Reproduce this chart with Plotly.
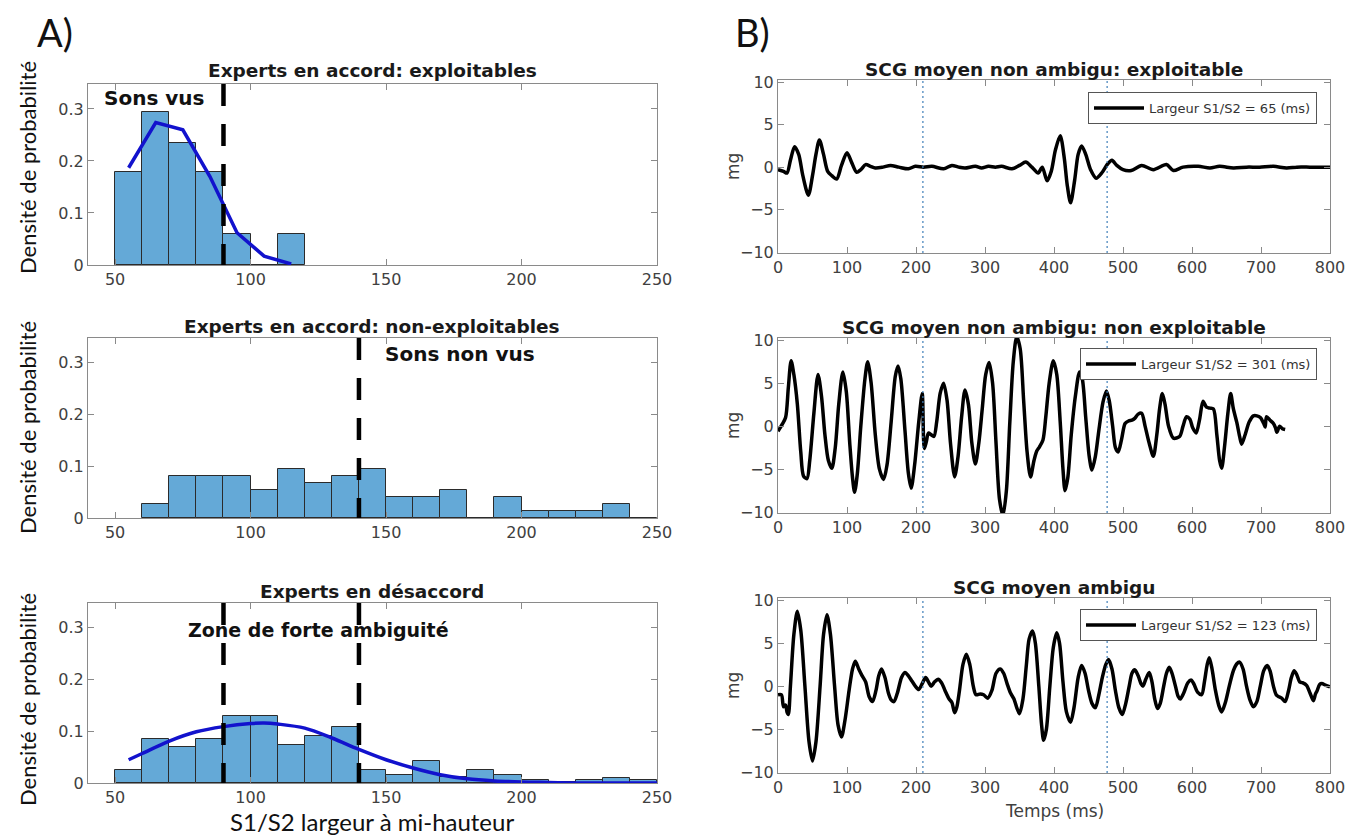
import numpy as np
import plotly.graph_objects as go

W, H = 1357, 837

# ---------------- Data: histograms (bin left edges, width 10) ----------------
bin_width = 10
bins_exploit = [50, 60, 70, 80, 90, 100, 110]
dens_exploit = [0.178, 0.295, 0.235, 0.178, 0.059, 0.0, 0.059]
fit_exploit_x = [55, 65, 75, 85, 95, 105, 115]
fit_exploit_y = [0.187, 0.274, 0.260, 0.170, 0.062, 0.017, 0.002]

bins_nonexploit = [60, 70, 80, 90, 100, 110, 120, 130, 140, 150, 160, 170, 180, 190, 200, 210, 220, 230, 240]
dens_nonexploit = [0.027, 0.081, 0.081, 0.081, 0.054, 0.095, 0.068, 0.081, 0.095, 0.041,
                   0.041, 0.054, 0.0, 0.041, 0.014, 0.014, 0.014, 0.027, 0.0]

bins_ambig = [50, 60, 70, 80, 90, 100, 110, 120, 130, 140, 150, 160, 170, 180, 190, 200, 210, 220, 230, 240]
dens_ambig = [0.026, 0.086, 0.070, 0.086, 0.129, 0.129, 0.074, 0.090, 0.108, 0.026,
              0.015, 0.043, 0.012, 0.026, 0.015, 0.005, 0.002, 0.005, 0.010, 0.005]
fit_ambig_x = [55, 60, 70, 80, 90, 100, 105, 110, 120, 130, 140, 150, 160, 170, 180, 190, 200, 210, 220, 230, 240, 250]
fit_ambig_y = [0.045, 0.057, 0.081, 0.099, 0.109, 0.115, 0.116, 0.114, 0.106, 0.087, 0.065, 0.045,
               0.029, 0.016, 0.008, 0.004, 0.002, 0.001, 0.0, 0.0, 0.0, 0.0]

thresh_exploit = [90]
thresh_nonexploit = [140]
thresh_ambig = [90, 140]

# ---------------- Data: averaged SCG waveforms ----------------
t_exploit = [0, 8, 13, 18, 24, 30, 36, 44, 50, 55, 60, 66, 72, 78, 85, 92, 100, 107, 114, 120, 127, 134,
             141, 152, 163, 175, 189, 199, 211, 223, 240, 252, 262, 271, 286, 295, 305, 315, 324, 339,
             350, 359, 368, 377, 383, 390, 396, 402, 409, 415, 419, 424, 430, 435, 440, 446, 453, 461,
             470, 478, 484, 491, 500, 512, 527, 544, 563, 573, 587, 609, 626, 640, 660, 679, 698, 718,
             737, 752, 771, 785, 800]
v_exploit = [-0.3, -0.5, -0.7, 0.8, 2.4, 1.5, -1.0, -3.3, -1.0, 1.5, 3.2, 1.5, -0.5, -1.0, -1.4, 0.2, 1.7,
             0.5, -0.6, -0.3, 0.3, 0.1, -0.1, 0.0, 0.2, 0.0, -0.2, 0.1, 0.0, 0.1, -0.2, 0.2, 0.0, -0.1,
             0.1, -0.1, 0.1, 0.0, 0.1, -0.2, 0.2, 0.6, 0.0, -0.7, 0.0, -1.6, -0.5, 2.0, 3.7, 1.0, -2.0,
             -4.2, -1.5, 1.5, 2.5, 1.5, -0.3, -1.3, -0.6, 0.4, 0.8, 0.2, -0.3, -0.4, 0.2, -0.3, 0.3, -0.4,
             0.0, 0.1, -0.1, 0.1, -0.1, 0.0, 0.0, 0.1, -0.1, 0.0, 0.0, 0.0, 0.0]

t_nonexploit = [0, 6, 11, 15, 19, 23, 28, 33, 37, 42, 46, 52, 58, 63, 68, 73, 78, 83, 88, 94, 99, 104, 108,
                111, 115, 120, 126, 130, 135, 141, 147, 153, 158, 164, 170, 174, 178, 184, 189, 193, 198,
                204, 209, 212, 215, 218, 222, 226, 230, 235, 240, 245, 250, 256, 261, 266, 271, 276, 281,
                286, 291, 296, 301, 306, 311, 316, 321, 326, 331, 336, 341, 346, 351, 356, 361, 366, 371,
                375, 379, 384, 388, 393, 399, 404, 409, 413, 416, 420, 425, 431, 437, 441, 446, 451, 455,
                460, 465, 471, 476, 480, 485, 489, 493, 498, 503, 508, 513, 517, 522, 527, 532, 538, 544,
                549, 553, 557, 561, 566, 573, 582, 587, 592, 597, 601, 606, 611, 616, 621, 626, 631, 636,
                640, 643, 647, 652, 656, 660, 665, 669, 672, 677, 683, 689, 694, 699, 704, 706, 708, 713,
                718, 721, 723, 727, 731, 735]
v_nonexploit = [-0.6, 0.2, 1.0, 4.5, 7.6, 6.0, 2.6, -3.0, -5.8, -6.1, -4.0, 1.5, 6.0, 3.5, -1.0, -4.0, -4.9,
                -2.5, 2.5, 6.3, 4.0, -2.0, -6.0, -7.7, -5.5, 0.0, 5.5, 7.5, 5.0, -1.0, -5.0, -6.2, -4.5, 0.5,
                5.8, 7.0, 5.5, -0.5, -5.5, -7.2, -4.5, 0.5, 3.8, -2.6, -1.8, -0.8, -1.0, -1.2, 0.5, 3.8, 5.0,
                3.0, -2.0, -5.9, -3.5, 1.0, 4.2, 2.5, -2.0, -4.4, -2.0, 2.0, 6.0, 7.4, 5.0, -2.0, -8.5, -10.4,
                -7.5, 0.5, 7.5, 10.4, 9.0, 3.0, -3.0, -5.9, -4.0, -2.9, -2.4, -1.6, 1.0, 5.0, 7.6, 6.0, 0.5,
                -5.0, -7.5, -6.0, -1.0, 3.5, 6.3, 5.5, 1.0, -3.5, -5.1, -3.5, -0.5, 2.8, 4.1, 3.0, 0.0, -2.5,
                -3.0, -1.5, 0.3, 0.6, 0.7, 0.9, 1.4, 1.5, 0.0, -2.0, -3.5, -1.0, 2.0, 3.8, 2.5, 0.0, -1.4,
                -1.2, 0.0, 1.1, 0.8, -0.2, -0.8, 0.8, 2.9, 2.2, 2.1, 2.0, -1.0, -4.0, -4.9, -2.5, 1.5, 3.8,
                2.0, 0.4, -1.2, -2.1, -1.0, 0.5, 1.2, 1.2, 1.0, 0.3, -0.1, 1.1, 0.7, 0.3, -0.2, -0.7, 0.0,
                -0.3, -0.4]

t_ambig = [0, 5, 8, 11, 13, 15, 18, 23, 28, 33, 39, 45, 50, 55, 61, 66, 71, 76, 82, 87, 92, 97, 103, 108,
           112, 117, 122, 127, 132, 137, 142, 146, 150, 155, 160, 164, 168, 173, 179, 184, 189, 194, 199,
           204, 209, 214, 218, 222, 227, 232, 237, 242, 248, 252, 256, 259, 263, 268, 273, 278, 283, 287,
           293, 298, 304, 310, 316, 322, 327, 332, 337, 342, 346, 350, 355, 360, 364, 369, 373, 378, 382,
           385, 389, 394, 399, 404, 408, 413, 418, 424, 429, 435, 440, 445, 450, 455, 460, 465, 470, 475,
           479, 484, 489, 494, 499, 504, 509, 513, 517, 522, 526, 529, 533, 538, 542, 546, 550, 554, 559,
           563, 567, 571, 576, 580, 583, 588, 594, 599, 603, 608, 614, 618, 622, 625, 629, 634, 639, 643,
           648, 654, 660, 665, 669, 674, 679, 684, 689, 694, 699, 704, 709, 713, 718, 722, 725, 730, 735,
           740, 744, 748, 752, 756, 760, 766, 771, 776, 779, 781, 785, 788, 794, 800]
v_ambig = [-1.0, -1.0, -2.4, -2.2, -3.0, -3.3, 0.0, 6.0, 8.7, 6.5, 0.0, -6.5, -8.7, -6.5, 0.0, 6.0, 8.3, 6.0,
           0.0, -4.5, -5.9, -4.0, -0.5, 2.0, 2.9, 2.0, 1.2, 0.5, -1.2, -1.8, -0.5, 1.2, 2.0, 1.0, -0.8,
           -1.6, -1.8, -0.8, 1.0, 1.6, 1.2, 0.6, 0.0, -0.4, 0.3, 1.0, 0.5, 0.0, 0.5, 0.8, 0.4, -0.5, -1.5,
           -1.9, -3.1, -2.5, -0.5, 2.5, 3.7, 2.5, 0.0, -1.0, -0.9, -1.0, -1.4, -0.5, 1.5, 2.0, 1.5, 0.3,
           -0.8, -1.5, -2.5, -3.2, -1.5, 2.5, 5.5, 6.4, 5.0, 0.0, -4.5, -6.3, -5.0, 0.0, 4.5, 6.2, 5.0, 0.5,
           -3.0, -4.2, -2.5, 1.0, 2.4, 1.5, -0.5, -2.0, -2.5, -1.0, 1.0, 2.5, 3.1, 2.0, -0.5, -2.5, -3.3,
           -2.0, 0.0, 1.5, 1.9, 1.2, 0.3, 0.0, 0.8, 1.6, 0.5, -1.5, -2.6, -2.0, 0.0, 1.5, 2.2, 1.5, 0.0,
           -1.2, -1.5, -0.8, 0.4, 0.7, 0.2, -0.7, -1.0, 0.5, 2.5, 3.3, 2.0, -0.5, -2.3, -3.0, -2.0, 0.0,
           1.8, 2.6, 2.8, 2.0, 0.0, -1.6, -2.4, -1.8, 0.0, 1.8, 2.4, 1.8, 0.0, -1.0, -1.2, -1.4, -1.8, -0.5,
           1.0, 1.8, 1.3, 0.5, 0.4, 0.1, -0.8, -1.7, -0.9, -0.6, 0.2, 0.3, 0.1, -0.1]

wave_titles = ["SCG moyen non ambigu: exploitable", "SCG moyen non ambigu: non exploitable", "SCG moyen ambigu"]
wave_widths = [65, 301, 123]
s_markers_ms = [210, 477]

hist_titles = ["Experts en accord: exploitables", "Experts en accord: non-exploitables", "Experts en désaccord"]

# ---------------- Layout helpers ----------------
def px_x(p):
    return p / W

def px_y(p):
    return 1 - p / H

BAR_COLOR = "#64A9D7"
FIT_COLOR = "rgb(18,18,205)"
AX_COLOR = "#8a8a8a"
TICK_FONT = dict(family="DejaVu Sans", size=16, color="#404040")
LABEL_FONT = "Lato"

left_dom_x = [px_x(88), px_x(657)]
left_dom_y = [[px_y(265), px_y(84)], [px_y(518), px_y(338)], [px_y(783), px_y(603)]]
right_dom_x = [px_x(778), px_x(1330)]
right_dom_y = [[px_y(253), px_y(80)], [px_y(513), px_y(338)], [px_y(773), px_y(598)]]

fig = go.Figure()

hist_sets = [
    (bins_exploit, dens_exploit, fit_exploit_x, fit_exploit_y, thresh_exploit),
    (bins_nonexploit, dens_nonexploit, None, None, thresh_nonexploit),
    (bins_ambig, dens_ambig, fit_ambig_x, fit_ambig_y, thresh_ambig),
]

shapes = []
annotations = []

for i, (edges, dens, fx, fy, th) in enumerate(hist_sets):
    ax = i + 1
    xa = "x" if ax == 1 else f"x{ax}"
    ya = "y" if ax == 1 else f"y{ax}"
    centers = np.array(edges) + bin_width / 2
    fig.add_trace(go.Bar(x=centers, y=dens, width=bin_width, xaxis=xa, yaxis=ya,
                         marker=dict(color=BAR_COLOR, line=dict(color="#2b2b2b", width=1)),
                         showlegend=False, hoverinfo="x+y"))
    if fx is not None:
        fig.add_trace(go.Scatter(x=fx, y=fy, xaxis=xa, yaxis=ya, mode="lines",
                                 line=dict(color=FIT_COLOR, width=3.5,
                                           shape="spline" if i == 2 else "linear"),
                                 showlegend=False))
    for t in th:
        shapes.append(dict(type="line", xref=xa, yref=f"{ya} domain", x0=t, x1=t, y0=1, y1=0,
                           line=dict(color="black", width=4.5, dash="22px,18px"), layer="above"))

wave_sets = [(t_exploit, v_exploit), (t_nonexploit, v_nonexploit), (t_ambig, v_ambig)]
legend_names = ["legend", "legend2", "legend3"]
legend_tops = [92, 348, 609]

for i, (t, v) in enumerate(wave_sets):
    ax = i + 4
    xa, ya = f"x{ax}", f"y{ax}"
    fig.add_trace(go.Scatter(x=t, y=v, xaxis=xa, yaxis=ya, mode="lines",
                             line=dict(color="black", width=3.5, shape="spline", smoothing=0.8),
                             name=f"Largeur S1/S2 = {wave_widths[i]} (ms)",
                             legend=legend_names[i], showlegend=True))
    for m in s_markers_ms:
        shapes.append(dict(type="line", xref=xa, yref=f"{ya} domain", x0=m, x1=m, y0=0, y1=1,
                           line=dict(color="#3f7fb8", width=1.2, dash="2px,3px"), layer="above"))

layout = dict(
    width=W, height=H,
    margin=dict(l=0, r=0, t=0, b=0, pad=0, autoexpand=False),
    paper_bgcolor="white", plot_bgcolor="white",
    showlegend=True,
    bargap=0,
)

common_axis = dict(showline=True, linecolor=AX_COLOR, linewidth=1, mirror="ticks",
                   ticks="inside", ticklen=6, tickcolor=AX_COLOR, showgrid=False,
                   zeroline=False, tickfont=TICK_FONT, automargin=False)

for i in range(3):
    ax = i + 1
    xk = "xaxis" if ax == 1 else f"xaxis{ax}"
    yk = "yaxis" if ax == 1 else f"yaxis{ax}"
    ya = "y" if ax == 1 else f"y{ax}"
    xa = "x" if ax == 1 else f"x{ax}"
    layout[xk] = dict(common_axis, domain=left_dom_x, anchor=ya, range=[40, 250],
                      tickvals=[50, 100, 150, 200, 250])
    layout[yk] = dict(common_axis, domain=left_dom_y[i], anchor=xa, range=[0, 0.348],
                      tickvals=[0, 0.1, 0.2, 0.3], ticktext=["0", "0.1", "0.2", "0.3"])

for i in range(3):
    ax = i + 4
    layout[f"xaxis{ax}"] = dict(common_axis, domain=right_dom_x, anchor=f"y{ax}", range=[0, 800],
                                tickvals=list(range(0, 801, 100)))
    layout[f"yaxis{ax}"] = dict(common_axis, domain=right_dom_y[i], anchor=f"x{ax}", range=[-10.1, 10.25],
                                tickvals=[-10, -5, 0, 5, 10])

for i, name in enumerate(legend_names):
    layout[name] = dict(x=px_x(1317), y=px_y(legend_tops[i]), xanchor="right", yanchor="top",
                        bgcolor="white", bordercolor="#555555", borderwidth=1,
                        font=dict(family="DejaVu Sans", size=13, color="#333333"),
                        itemwidth=50, tracegroupgap=0)

# Titles
title_font = dict(family="DejaVu Sans", size=18.5, color="#1a1a1a")
left_title_y = [71, 326, 591]
right_title_y = [69, 327, 587]
for i in range(3):
    annotations.append(dict(text=f"<b>{hist_titles[i]}</b>", x=px_x(372), y=px_y(left_title_y[i]),
                            xref="paper", yref="paper", showarrow=False, font=title_font,
                            xanchor="center", yanchor="middle"))
    annotations.append(dict(text=f"<b>{wave_titles[i]}</b>", x=px_x(1054), y=px_y(right_title_y[i]),
                            xref="paper", yref="paper", showarrow=False, font=title_font,
                            xanchor="center", yanchor="middle"))

# Y-axis labels on the left
dens_label_y = [168, 428, 700]
for yy in dens_label_y:
    annotations.append(dict(text="Densité de probabilité", x=px_x(27), y=px_y(yy), xref="paper", yref="paper",
                            showarrow=False, textangle=-90, font=dict(family=LABEL_FONT, size=22, color="#111111"),
                            xanchor="center", yanchor="middle"))
annotations.append(dict(text="S1/S2 largeur à mi-hauteur", x=px_x(372), y=0, xref="paper", yref="paper",
                        showarrow=False, font=dict(family=LABEL_FONT, size=24, color="#111111"),
                        xanchor="center", yanchor="bottom", borderpad=0))

# mg labels / Temps
for i in range(3):
    cy = [167, 426, 686][i]
    annotations.append(dict(text="mg", x=px_x(733), y=px_y(cy), xref="paper", yref="paper", showarrow=False,
                            textangle=-90, font=dict(family="DejaVu Sans", size=17, color="#404040"),
                            xanchor="center", yanchor="middle"))
annotations.append(dict(text="Temps (ms)", x=px_x(1054), y=px_y(811), xref="paper", yref="paper", showarrow=False,
                        font=dict(family="DejaVu Sans", size=17, color="#404040"),
                        xanchor="center", yanchor="middle"))

# Panel letters
annotations.append(dict(text="A)", x=px_x(55), y=px_y(32), xref="paper", yref="paper", showarrow=False,
                        font=dict(family=LABEL_FONT, size=38, color="#111111"), xanchor="center", yanchor="middle"))
annotations.append(dict(text="B)", x=px_x(752), y=px_y(32), xref="paper", yref="paper", showarrow=False,
                        font=dict(family=LABEL_FONT, size=38, color="#111111"), xanchor="center", yanchor="middle"))

# In-plot text
note_font = dict(family="DejaVu Sans", size=20, color="#111111")
annotations.append(dict(text="<b>Sons vus</b>", x=45, y=0.321, xref="x", yref="y", showarrow=False,
                        font=note_font, xanchor="left", yanchor="middle"))
annotations.append(dict(text="<b>Sons non vus</b>", x=149, y=0.317, xref="x2", yref="y2", showarrow=False,
                        font=note_font, xanchor="left", yanchor="middle"))
annotations.append(dict(text="<b>Zone de forte ambiguité</b>", x=125, y=0.296, xref="x3", yref="y3",
                        showarrow=False, font=dict(note_font, size=19), xanchor="center", yanchor="middle"))

layout["shapes"] = shapes
layout["annotations"] = annotations
fig.update_layout(layout)

fig.write_html("out.html",
               config={"displayModeBar": False},
               post_script="document.body.style.margin='0';document.body.style.padding='0';"
                           "document.documentElement.style.overflow='hidden';")
